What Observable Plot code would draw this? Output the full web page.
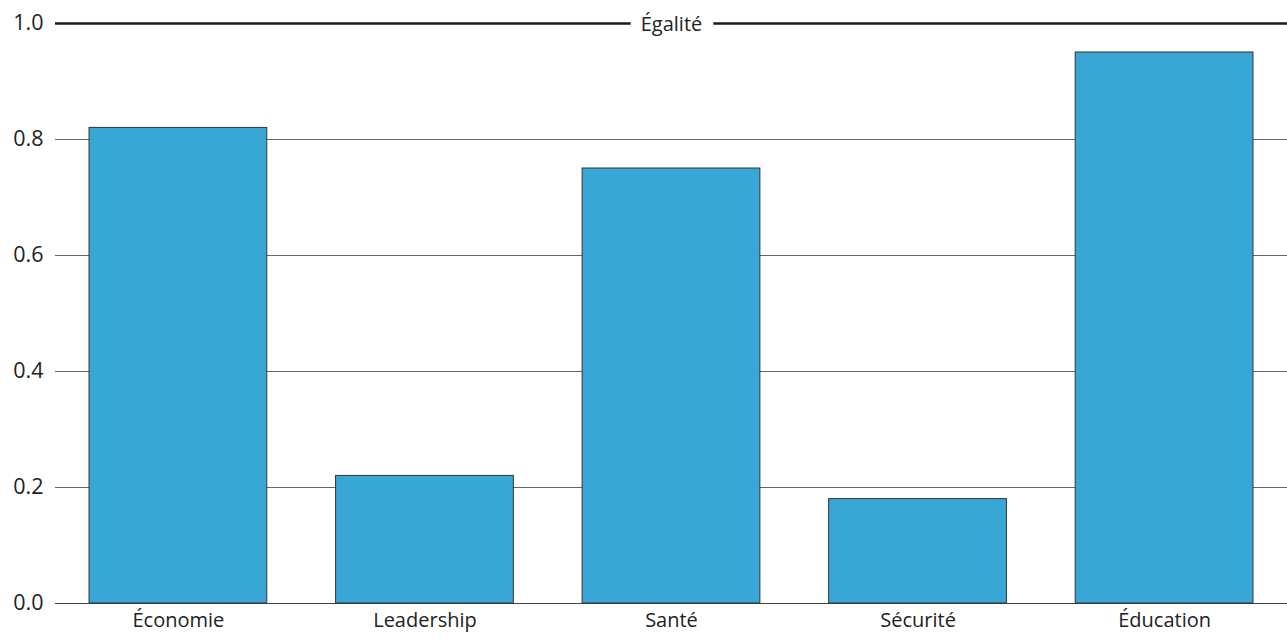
<!DOCTYPE html>
<html>
<head>
<meta charset="utf-8">
<script src="https://cdn.jsdelivr.net/npm/d3@7"></script>
<script src="https://cdn.jsdelivr.net/npm/@observablehq/plot@0.6"></script>
<style>
  html, body { margin: 0; padding: 0; background: #fff; }
  #chart svg { display: block; }
</style>
</head>
<body>
<div id="chart"></div>
<script>
const categories = ["Économie", "Leadership", "Santé", "Sécurité", "Éducation"];
const values = [0.82, 0.22, 0.75, 0.18, 0.95];
const yTicks = [0, 0.2, 0.4, 0.6, 0.8, 1.0];
const gridTicks = [0.2, 0.4, 0.6, 0.8];
const refLabel = "Égalité";
const refValue = 1.0;

const data = categories.map((c, i) => ({category: c, value: values[i]}));

const chart = Plot.plot({
  width: 1287,
  height: 643,
  marginLeft: 55,
  marginRight: 0,
  marginTop: 23,
  marginBottom: 40,
  style: {fontFamily: "'Open Sans', sans-serif", fontSize: "20px", color: "#222", background: "#fff"},
  x: {domain: categories, paddingInner: 0.279, paddingOuter: 0.138, round: false, label: null},
  y: {domain: [0, 1], label: null},
  marks: [
    Plot.ruleY(gridTicks, {stroke: "#666", strokeWidth: 1}),
    Plot.ruleY([0], {stroke: "#444", strokeWidth: 1.2}),
    Plot.barY(data, {x: "category", y: "value", fill: "#38a7d5", stroke: "#333", strokeWidth: 1}),
    Plot.ruleY([refValue], {stroke: "#1a1a1a", strokeWidth: 2.5}),
    Plot.text([refLabel], {frameAnchor: "top", lineAnchor: "middle", dy: 1, text: d => d, fill: "#222", stroke: "white", strokeWidth: 24, fontSize: 20}),
    Plot.axisY(yTicks, {tickFormat: ".1f", tickSize: 0, tickPadding: 12, fontSize: 21.5, fill: "#222"}),
    Plot.axisX({tickSize: 0, tickPadding: 9, fontSize: 20, fill: "#222"})
  ]
});
document.getElementById("chart").appendChild(chart);
</script>
</body>
</html>
